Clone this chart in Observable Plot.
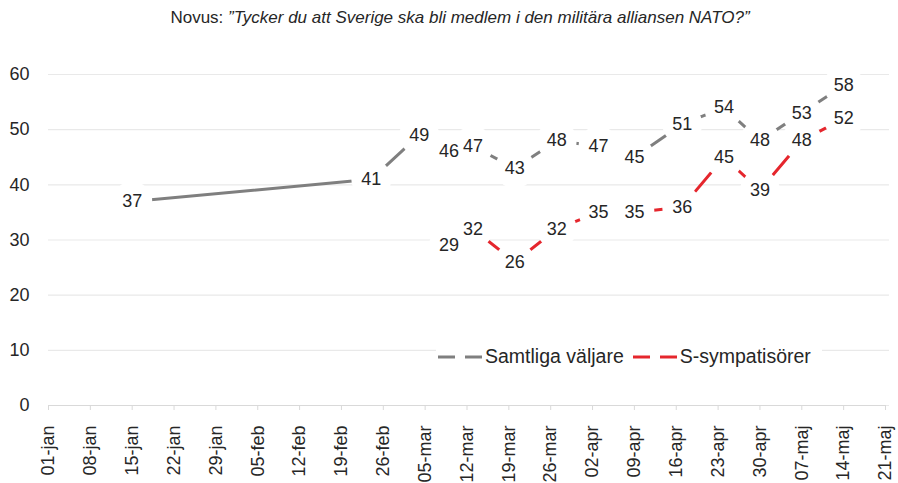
<!DOCTYPE html>
<html>
<head>
<meta charset="utf-8">
<script src="https://cdn.jsdelivr.net/npm/d3@7"></script>
<script src="https://cdn.jsdelivr.net/npm/@observablehq/plot@0.6"></script>
<style>
  html, body { margin: 0; padding: 0; background: #fff; }
  #wrap { position: relative; width: 898px; height: 483px; overflow: hidden; font-family: "Liberation Sans", Arial, sans-serif; color: #262626; }
  #title { height: 34px; line-height: 36px; font-size: 17px; text-align: center; width: 920px; white-space: nowrap; }
  #legend { position: absolute; left: 436px; top: 345px; background: #fff; display: flex; align-items: center; font-size: 19.5px; line-height: 23px; padding: 0 2px; }
  #legend svg { margin-right: 3px; }
  #legend span { margin-right: 9px; }
</style>
</head>
<body>
<div id="wrap">
  <div id="title">Novus: <i>”Tycker du att Sverige ska bli medlem i den militära alliansen NATO?”</i></div>
  <div id="chart"></div>
  <div id="legend"></div>
</div>
<script>
const dates = ["2022-01-15","2022-02-24","2022-03-04","2022-03-09","2022-03-13","2022-03-20","2022-03-27","2022-04-03","2022-04-09","2022-04-17","2022-04-24","2022-04-30","2022-05-07","2022-05-14"];
const samtliga = [37,41,49,46,47,43,48,47,45,51,54,48,53,58];
const sympatisorer = [null,null,null,29,32,26,32,35,35,36,45,39,48,52];
const seriesNames = ["Samtliga väljare", "S-sympatisörer"];
const seriesColors = ["#7f7f7f", "#e5262d"];
const tickDates = ["2022-01-01","2022-01-08","2022-01-15","2022-01-22","2022-01-29","2022-02-05","2022-02-12","2022-02-19","2022-02-26","2022-03-05","2022-03-12","2022-03-19","2022-03-26","2022-04-02","2022-04-09","2022-04-16","2022-04-23","2022-04-30","2022-05-07","2022-05-14","2022-05-21"];
const tickLabels = ["01-jan","08-jan","15-jan","22-jan","29-jan","05-feb","12-feb","19-feb","26-feb","05-mar","12-mar","19-mar","26-mar","02-apr","09-apr","16-apr","23-apr","30-apr","07-maj","14-maj","21-maj"];
const yTicks = [0,10,20,30,40,50,60];

const rows = [];
dates.forEach((d, i) => {
  if (samtliga[i] != null) rows.push({date: new Date(d), v: samtliga[i], s: seriesNames[0]});
});
dates.forEach((d, i) => {
  if (sympatisorer[i] != null) rows.push({date: new Date(d), v: sympatisorer[i], s: seriesNames[1]});
});
const tickDateObjs = tickDates.map(d => new Date(d));

const chart = Plot.plot({
  width: 898,
  height: 449,
  marginLeft: 48,
  marginRight: 13,
  marginTop: 40,
  marginBottom: 78,
  style: { fontFamily: "Liberation Sans, Arial, sans-serif", fontSize: "18px", color: "#262626", background: "#fff" },
  x: { type: "utc", domain: [tickDateObjs[0], tickDateObjs[tickDateObjs.length - 1]], label: null },
  y: { domain: [0, 60], label: null },
  color: { domain: seriesNames, range: seriesColors },
  marks: [
    Plot.gridY(yTicks, { stroke: "#e9e9e9", strokeOpacity: 1, strokeWidth: 1.2, x1: tickDateObjs[0], x2: new Date("2022-05-21T16:00:00Z") }),
    Plot.ruleY([0], { stroke: "#d9d9d9", strokeWidth: 1.2 }),
    Plot.axisY({ ticks: yTicks, tickSize: 0, tickPadding: 19, fontSize: 18, fill: "#262626", label: null }),
    Plot.axisX({ ticks: tickDateObjs, tickFormat: (d, i) => tickLabels[i], tickRotate: -90, tickSize: 5, tickPadding: 15, stroke: "#d9d9d9", fontSize: 18, fill: "#262626", label: null }),
    Plot.line(rows, { x: "date", y: "v", z: "s", stroke: "s", strokeWidth: 3 }),
    Plot.dot(rows, { x: "date", y: "v", r: 20, fill: "#fff", stroke: null }),
    Plot.text(rows, { x: "date", y: "v", text: d => String(d.v), fill: "#262626", fontSize: 18 })
  ]
});
document.getElementById("chart").appendChild(chart);

const legend = document.getElementById("legend");
seriesNames.forEach((name, i) => {
  const ns = "http://www.w3.org/2000/svg";
  const svg = document.createElementNS(ns, "svg");
  svg.setAttribute("width", "44");
  svg.setAttribute("height", "6");
  [[0, 17], [27, 44]].forEach(([a, b]) => {
    const l = document.createElementNS(ns, "line");
    l.setAttribute("x1", a); l.setAttribute("x2", b);
    l.setAttribute("y1", 3); l.setAttribute("y2", 3);
    l.setAttribute("stroke", seriesColors[i]);
    l.setAttribute("stroke-width", 3);
    svg.appendChild(l);
  });
  legend.appendChild(svg);
  const sp = document.createElement("span");
  sp.textContent = name;
  legend.appendChild(sp);
});
</script>
</body>
</html>
